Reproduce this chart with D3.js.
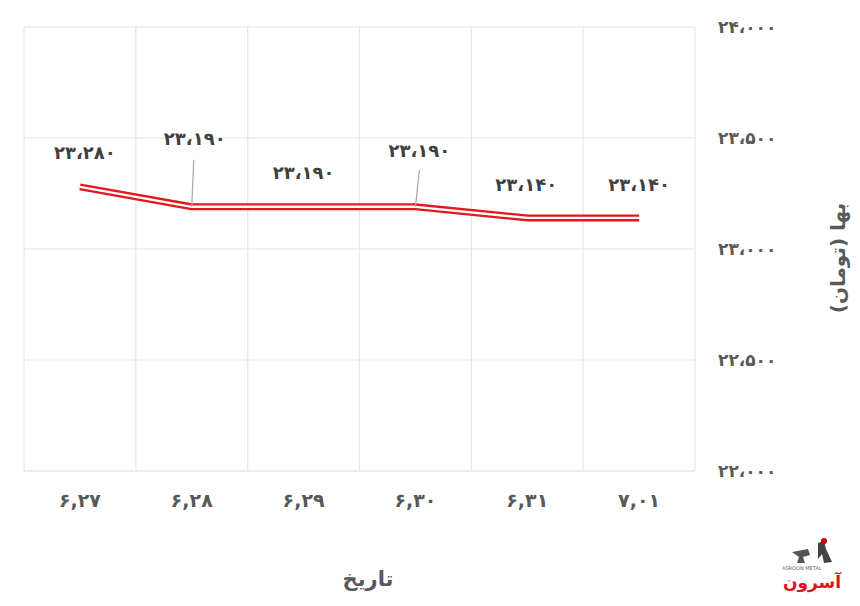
<!DOCTYPE html>
<html><head><meta charset="utf-8">
<script src="https://cdn.jsdelivr.net/npm/d3@7/dist/d3.min.js"></script>
<style>body{margin:0;background:#fff}svg{display:block}text{font-family:"DejaVu Sans",sans-serif}</style>
</head><body><svg id="c" width="860" height="606"></svg>
<script>
const categories = ["۶,۲۷","۶,۲۸","۶,۲۹","۶,۳۰","۶,۳۱","۷,۰۱"];
const prices = [23280,23190,23190,23190,23140,23140];
const yTicks = [22000,22500,23000,23500,24000];
const yTitle = "بها (تومان)";
const xTitle = "تاریخ";

const fa = n => d3.format(",")(n).replace(/,/g,"،").replace(/\d/g,d=>"۰۱۲۳۴۵۶۷۸۹"[d]);

const svg = d3.select("#c");
const L=24,R=695,T=27,B=471;
const x = d3.scaleBand().domain(categories).range([L,R]);
const y = d3.scaleLinear().domain([22000,24000]).range([B,T]);

// grid
const g = svg.append("g");
g.selectAll(".hg").data(yTicks).join("line")
  .attr("x1",L).attr("x2",R).attr("y1",d=>y(d)).attr("y2",d=>y(d))
  .attr("stroke",d=>d===22000?"#d9d9d9":"#e6e6e6").attr("stroke-width",1.2);
const vb = categories.map(c=>x(c)).concat([R]);
g.selectAll(".vg").data(vb).join("line")
  .attr("x1",d=>d).attr("x2",d=>d).attr("y1",T).attr("y2",B)
  .attr("stroke","#e6e6e6").attr("stroke-width",1.2);

// right axis labels
const ya = d3.axisRight(y).tickValues(yTicks).tickFormat(fa).tickSize(0).tickPadding(0);
const yg = svg.append("g").attr("transform",`translate(718,0)`).call(ya);
yg.select(".domain").remove();
yg.selectAll("text").attr("fill","#595959").attr("font-size",17).attr("font-weight","bold")
  .attr("text-anchor","start").attr("direction","ltr");

// x axis labels
const xa = d3.axisBottom(x).tickSize(0).tickPadding(0);
const xg = svg.append("g").attr("transform",`translate(0,493)`).call(xa);
xg.select(".domain").remove();
xg.selectAll("text").attr("fill","#595959").attr("font-size",19).attr("font-weight","bold").attr("direction","ltr");

// line
const line = d3.line().x((d,i)=>x(categories[i])+x.bandwidth()/2).y(d=>y(d));
svg.append("path").datum(prices).attr("d",line).attr("fill","none")
  .attr("stroke","#e3171c").attr("stroke-width",7).attr("stroke-linejoin","round");
svg.append("path").datum(prices).attr("d",line).attr("fill","none")
  .attr("stroke","#ffffff").attr("stroke-width",2.4).attr("stroke-linejoin","round");

// data labels
const off = [[5,-35],[3,-69],[0,-35],[4,-57],[-1,-34],[0,-34]];
const lead = [null,[2,-47],null,[4,-37],null,null];
prices.forEach((v,i)=>{
  const px = x(categories[i])+x.bandwidth()/2, py = y(v);
  if(lead[i]) svg.append("line").attr("x1",px).attr("y1",py).attr("x2",px+lead[i][0]).attr("y2",py+lead[i][1])
    .attr("stroke","#a6a6a6").attr("stroke-width",1.2);
  svg.append("text").attr("x",px+off[i][0]).attr("y",py+off[i][1]+7)
    .attr("text-anchor","middle").attr("direction","ltr").attr("font-size",18).attr("font-weight","bold")
    .attr("fill","#404040").text(fa(v));
});

// titles
svg.append("text").attr("x",368).attr("y",586).attr("text-anchor","middle").attr("font-size",21)
  .attr("font-weight","bold").attr("fill","#595959").text(xTitle);
svg.append("text").attr("transform","translate(845,258) rotate(-90)").attr("text-anchor","middle")
  .attr("font-size",20).attr("font-weight","bold").attr("fill","#595959").attr("direction","rtl").text(yTitle);

// logo
const lg = svg.append("g").attr("transform","translate(778,538)");
lg.append("path").attr("d","M14 14 L30 11 L32 17 L25 19 L27 25 L19 25 L21 19 Z").attr("fill","#555");
lg.append("path").attr("d","M40 5 L46 3 L48 11 L54 24 L46 25 L44 16 L40 21 Z").attr("fill","#444");
lg.append("circle").attr("cx",46).attr("cy",3).attr("r",3).attr("fill","#c00");
lg.append("text").attr("x",4).attr("y",32).attr("font-size",5).attr("fill","#666").text("ASROON METAL");
lg.append("text").attr("x",34).attr("y",50).attr("text-anchor","middle").attr("font-size",17).attr("font-weight","bold")
  .attr("fill","#d9161b").text("آسرون");
</script></body></html>
